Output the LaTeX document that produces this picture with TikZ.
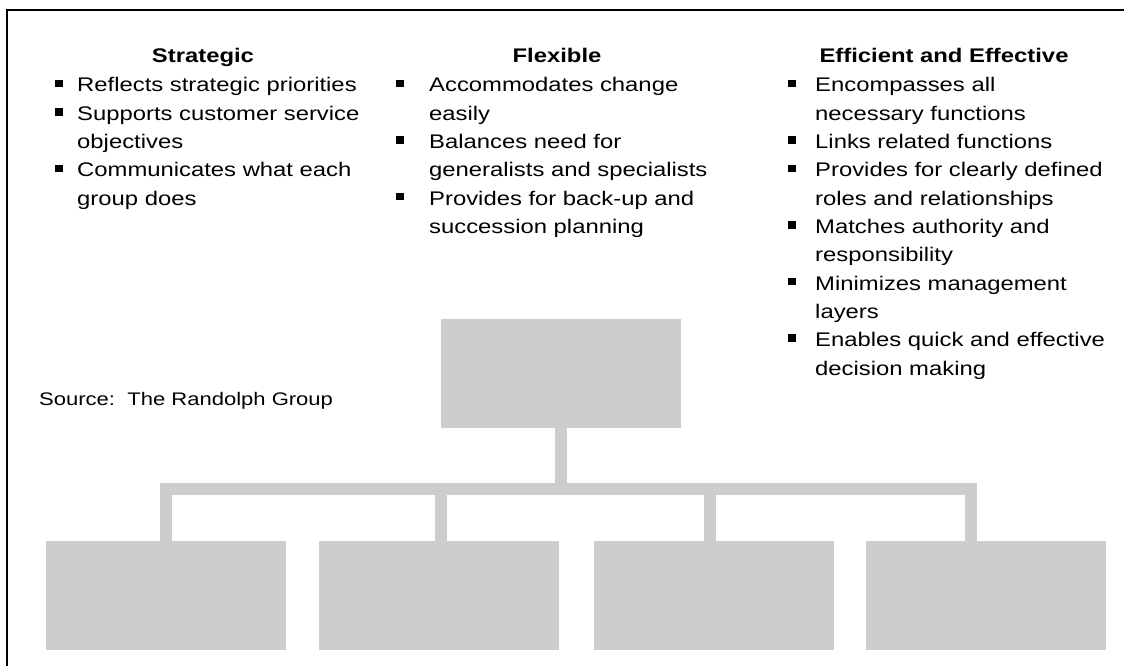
\documentclass[tikz,border=0pt]{standalone}
\usepackage{fontspec}
\newfontfamily\bodyfont{Liberation Sans}[FakeStretch=1.21]
\definecolor{boxgray}{RGB}{205,205,205}
\tikzset{
  x=1pt, y=1pt,
  txt/.style={anchor=base west, inner sep=0pt, font=\bodyfont\fontsize{19.7}{28.3}\selectfont},
  head/.style={anchor=base, inner sep=0pt, font=\bodyfont\bfseries\fontsize{19.7}{28.3}\selectfont},
  bul/.style={fill=black, minimum size=7.5pt, inner sep=0pt},
  unit/.style={fill=boxgray, minimum width=240pt, minimum height=109pt, inner sep=0pt},
  conn/.style={draw=boxgray, line width=12pt, line cap=rect},
  frame/.style={draw=black, line width=2.5pt}
}
\begin{document}
\begin{tikzpicture}
\useasboundingbox (0,0) rectangle (1124,-666);
% outer frame (top and left edges)
\draw[frame] (7,-666) -- (7,-10) -- (1124,-10);

% column headings
\node[head] (h1) at (203,-63) {Strategic};
\node[head] (h2) at (557,-63) {Flexible};
\node[head] (h3) at (944,-63) {Efficient and Effective};

% first column
\foreach \t/\b [count=\i] in {Reflects strategic priorities/1,Supports customer service/1,objectives/0,Communicates what each/1,group does/0}{
  \node[txt] (ca\i) at (77,{-92-28.3*(\i-1)}) {\t};
  \ifnum\b=1 \node[bul] (ba\i) at (59,{-83.5-28.3*(\i-1)}) {}; \fi
}
% second column
\foreach \t/\b [count=\i] in {Accommodates change/1,easily/0,Balances need for/1,generalists and specialists/0,Provides for back-up and/1,succession planning/0}{
  \node[txt] (cb\i) at (429,{-92-28.3*(\i-1)}) {\t};
  \ifnum\b=1 \node[bul] (bb\i) at (400,{-83.5-28.3*(\i-1)}) {}; \fi
}
% third column
\foreach \t/\b [count=\i] in {Encompasses all/1,necessary functions/0,Links related functions/1,Provides for clearly defined/1,roles and relationships/0,Matches authority and/1,responsibility/0,Minimizes management/1,layers/0,Enables quick and effective/1,decision making/0}{
  \node[txt] (cc\i) at (815,{-92-28.3*(\i-1)}) {\t};
  \ifnum\b=1 \node[bul] (bc\i) at (792,{-83.5-28.3*(\i-1)}) {}; \fi
}

% source note
\node[txt, font=\bodyfont\fontsize{18.2}{22}\selectfont] (src) at (39,-405) {Source:\ \ The Randolph Group};

% organisation chart boxes
\node[unit] (top) at (561,-373.5) {};
\node[unit] (u1) at (166,-595.5) {};
\node[unit] (u2) at (438.5,-595.5) {};
\node[unit] (u3) at (714,-595.5) {};
\node[unit] (u4) at (986,-595.5) {};

% connector bar and drops
\coordinate (d1) at (166,-489);
\coordinate (d2) at (441,-489);
\coordinate (d3) at (710,-489);
\coordinate (d4) at (971,-489);
\draw[conn] (top.south) -- (top.south |- d1);
\draw[conn] (d1) -- (d4);
\draw[conn] (d1) -- (d1 |- u1.north);
\draw[conn] (d2) -- (d2 |- u2.north);
\draw[conn] (d3) -- (d3 |- u3.north);
\draw[conn] (d4) -- (d4 |- u4.north);
\end{tikzpicture}
\end{document}
